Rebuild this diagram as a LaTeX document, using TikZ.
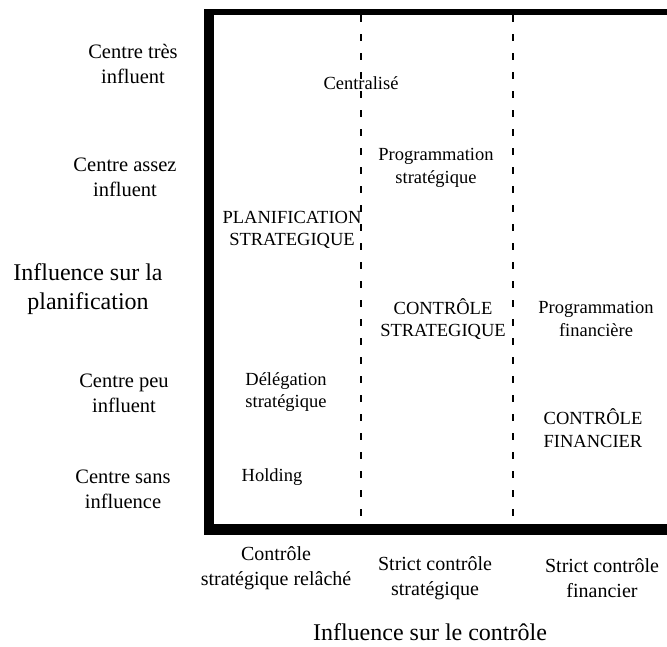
\documentclass[tikz,border=0pt]{standalone}
\usepackage{fontspec}
\setmainfont{Liberation Serif}
\begin{document}
\begin{tikzpicture}[x=1pt,y=-1pt,
  lefttxt/.style={align=center,inner sep=0pt,font=\fontsize{20.5}{25}\selectfont},
  intxt/.style={align=center,inner sep=0pt,font=\fontsize{18.5}{22.5}\selectfont},
  bottxt/.style={align=center,inner sep=0pt,font=\fontsize{20}{25}\selectfont},
  axistxt/.style={align=center,inner sep=0pt,font=\fontsize{24}{29}\selectfont},
  divline/.style={line width=2pt,dash pattern=on 7pt off 12pt}]
\useasboundingbox (0,0) rectangle (667,646);
% frame
\coordinate (tl) at (204,12);
\coordinate (tr) at (667,12);
\coordinate (bl) at (204,529.5);
\coordinate (br) at (667,529.5);
\draw[line width=6pt] (tl) -- (tr);
\draw[line width=11pt] (bl) -- (br);
\draw[line width=10pt] (209,9) -- (209,535);
% dividers
\coordinate (d1t) at (361,15);
\coordinate (d1b) at (361,524);
\coordinate (d2t) at (513,15);
\coordinate (d2b) at (513,524);
\draw[divline] (d1t) -- (d1b);
\draw[divline] (d2t) -- (d2b);
% left labels
\node[lefttxt] (l1) at (133,64) {Centre très\\influent};
\node[lefttxt] (l2) at (125,177) {Centre assez\\influent};
\node[axistxt] (ly) at (88,289) {Influence sur la\\planification};
\node[lefttxt] (l3) at (124,393) {Centre peu\\influent};
\node[lefttxt] (l4) at (123,489) {Centre sans\\influence};
% inner labels
\node[intxt] (c1) at (361,83) {Centralisé};
\node[intxt] (c2) at (436,168) {Programmation\\stratégique};
\node[intxt] (c3) at (292,230) {PLANIFICATION\\STRATEGIQUE};
\node[intxt] (c4) at (443,319) {CONTRÔLE\\STRATEGIQUE};
\node[intxt] (c5) at (596,319) {Programmation\\financière};
\node[intxt] (c6) at (286,392) {Délégation\\stratégique};
\node[intxt] (c7) at (593,428) {CONTRÔLE\\FINANCIER};
\node[intxt] (c8) at (272,477) {Holding};
% bottom labels
\node[bottxt] (b1) at (276,568) {Contrôle\\stratégique relâché};
\node[bottxt] (b2) at (435,578) {Strict contrôle\\stratégique};
\node[bottxt] (b3) at (602,578) {Strict contrôle\\financier};
\node[axistxt] (lx) at (430,632) {Influence sur le contrôle};
\end{tikzpicture}
\end{document}
